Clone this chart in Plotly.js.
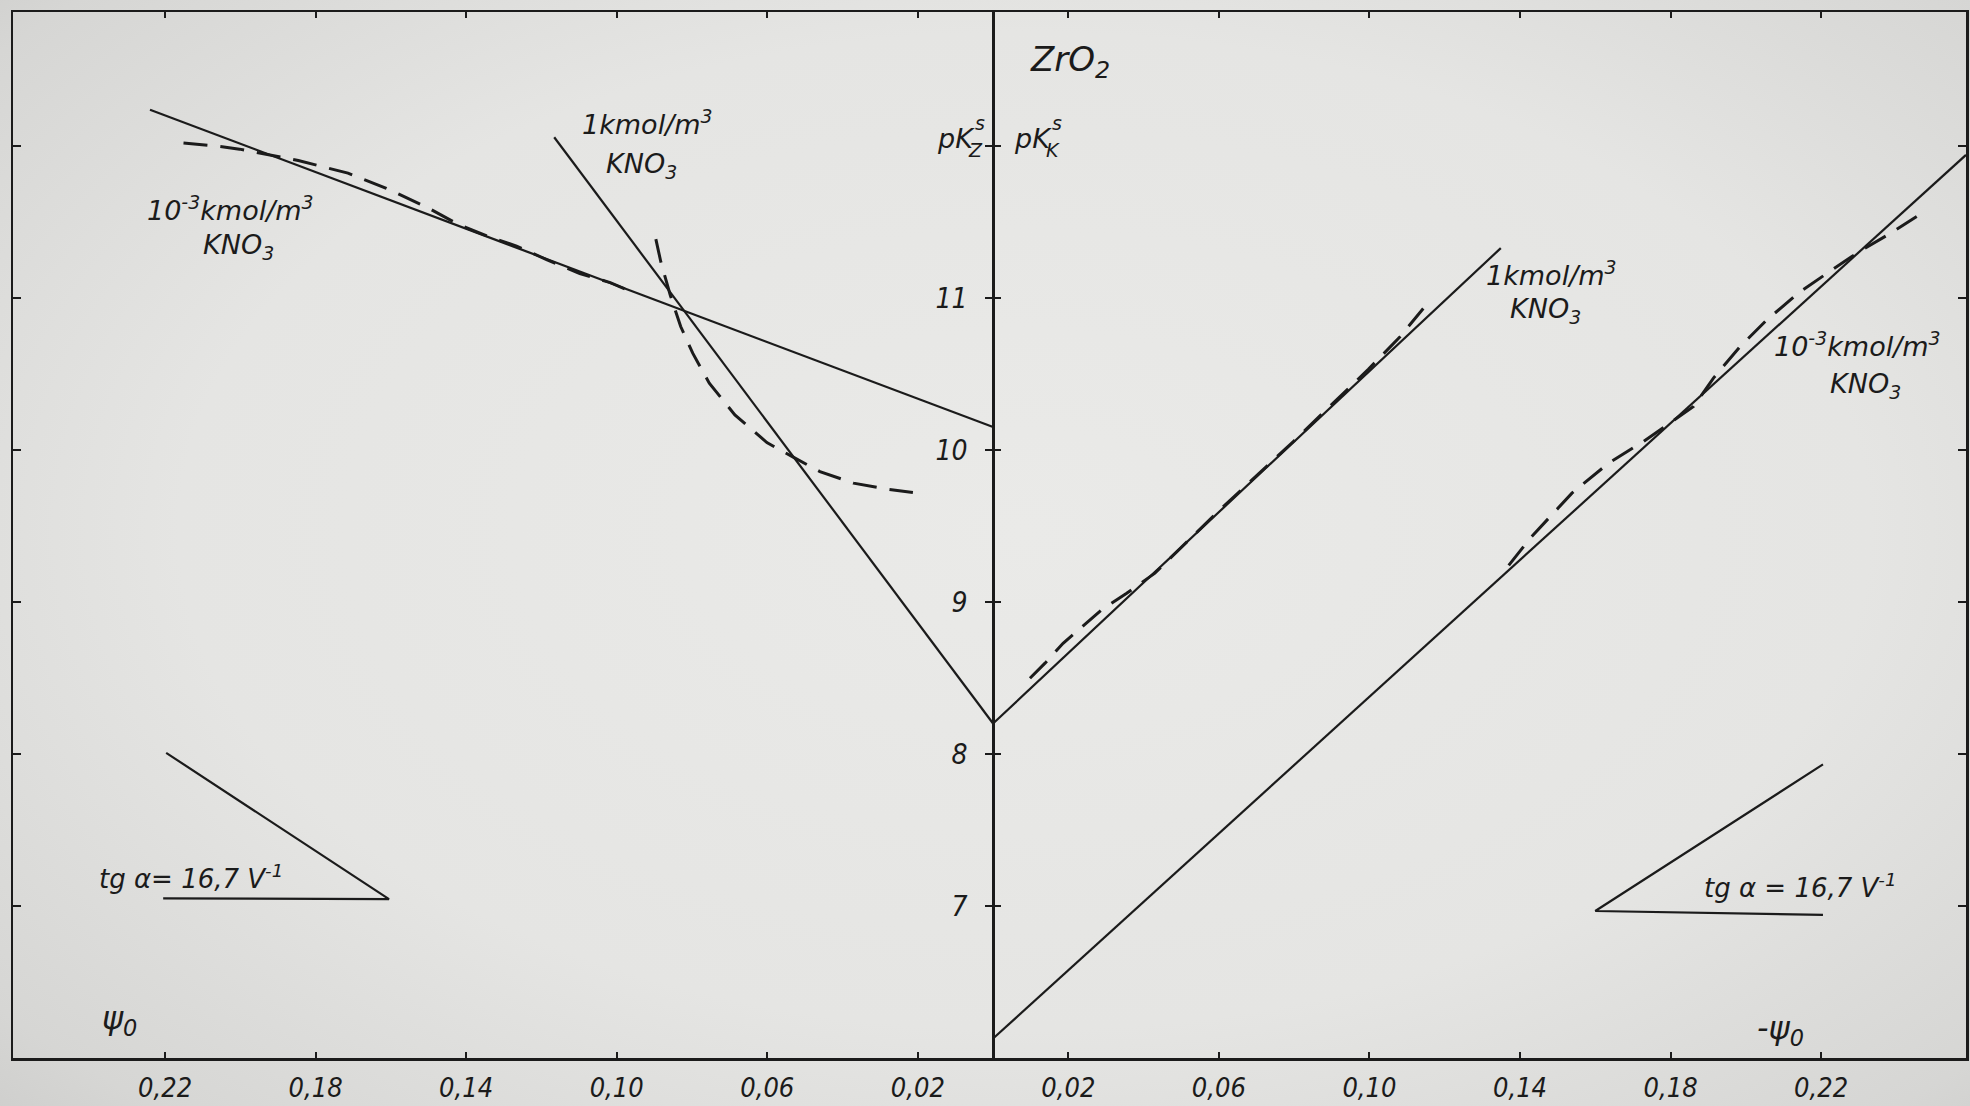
<!DOCTYPE html>
<html>
<head>
<meta charset="utf-8">
<script src="https://cdn.plot.ly/plotly-3.0.1.min.js"></script>
<style>
  html, body { margin: 0; padding: 0; }
  body {
    width: 1970px; height: 1106px; overflow: hidden;
    background: radial-gradient(ellipse 78% 82% at 52% 48%, #eaeae8 0%, #e5e5e3 55%, #d6d6d4 85%, #c8c8c6 100%);
  }
  #chart { width: 1970px; height: 1106px; }
</style>
</head>
<body>
<div id="chart"></div>
<script>
// ZrO2: pK_Z^s - pK_K^s against the surface potential psi0.
// psi0 > 0 is drawn on the left half, -psi0 on the right half.

// 1 kmol/m3 KNO3, psi0 > 0
const fitHighPosX = [0.1166, 0.0];
const fitHighPosY = [12.056, 8.20];
const expHighPosX = [0.0896, 0.0883, 0.0858, 0.0830, 0.0798, 0.0754, 0.0686, 0.0601, 0.0531, 0.0460, 0.0371, 0.0283, 0.0213];
const expHighPosY = [11.386, 11.239, 11.020, 10.811, 10.636, 10.439, 10.230, 10.048, 9.952, 9.857, 9.781, 9.742, 9.719];

// 1e-3 kmol/m3 KNO3, psi0 > 0
const fitLowPosX = [0.2240, 0.0];
const fitLowPosY = [12.237, 10.15];
const expLowPosX = [0.2151, 0.2069, 0.2002, 0.1958, 0.1846, 0.1714, 0.1612, 0.1500, 0.1419, 0.1337, 0.1266, 0.1185, 0.1098, 0.1017, 0.0971];
const expLowPosY = [12.018, 12.000, 11.978, 11.956, 11.903, 11.820, 11.720, 11.590, 11.480, 11.400, 11.340, 11.250, 11.160, 11.100, 11.050];

// 1 kmol/m3 KNO3, psi0 < 0
const fitHighNegX = [0.0, -0.1349];
const fitHighNegY = [8.20, 11.327];
const expHighNegX = [-0.0098, -0.0138, -0.0186, -0.0288, -0.0355, -0.0430, -0.0600, -0.0800, -0.0997, -0.1080, -0.1143];
const expHighNegY = [8.498, 8.597, 8.728, 8.947, 9.057, 9.189, 9.600, 10.060, 10.530, 10.740, 10.930];

// 1e-3 kmol/m3 KNO3, psi0 < 0
const fitLowNegX = [0.0, -0.2585];
const fitLowNegY = [6.128, 11.94];
const expLowNegX = [-0.1370, -0.1427, -0.1538, -0.1635, -0.1728, -0.1825, -0.1861, -0.1914, -0.1985, -0.2056, -0.2144, -0.2215, -0.2295, -0.2392, -0.2454];
const expLowNegY = [9.240, 9.419, 9.715, 9.912, 10.055, 10.219, 10.285, 10.472, 10.680, 10.855, 11.040, 11.160, 11.294, 11.436, 11.535];

// slope guides, tg alpha = 16.7 V^-1
const slopeLeftX = [0.2197, 0.1605, 0.2205];
const slopeLeftY = [8.007, 7.045, 7.050];
const slopeRightX = [-0.2205, -0.1600, -0.2205];
const slopeRightY = [7.931, 6.967, 6.941];

// axes
const psiRange = [0.2604, -0.2585];
const pkRange = [6.0, 12.88];
const psiTicks = [0.22, 0.18, 0.14, 0.10, 0.06, 0.02, -0.02, -0.06, -0.10, -0.14, -0.18, -0.22];
const psiTickText = ['0,22', '0,18', '0,14', '0,10', '0,06', '0,02', '0,02', '0,06', '0,10', '0,14', '0,18', '0,22'];
const pkTicks = [7, 8, 9, 10, 11, 12];
const pkTickText = ['7', '8', '9', '10', '11', ''];

const INK = '#1b1b1b';
const solid = { color: INK, width: 2.2 };
const dashed = { color: INK, width: 3, dash: '24px,13px' };

function line(x, y, style, yaxis) {
  return { x: x, y: y, type: 'scatter', mode: 'lines', line: style,
           hoverinfo: 'skip', showlegend: false, yaxis: yaxis || 'y' };
}

const traces = [
  line(fitLowPosX, fitLowPosY, solid),
  line(expLowPosX, expLowPosY, dashed),
  line(fitHighPosX, fitHighPosY, solid),
  line(expHighPosX, expHighPosY, dashed),
  line(fitHighNegX, fitHighNegY, solid, 'y2'),
  line(expHighNegX, expHighNegY, dashed, 'y2'),
  line(fitLowNegX, fitLowNegY, solid, 'y3'),
  line(expLowNegX, expLowNegY, dashed, 'y3'),
  line(slopeLeftX, slopeLeftY, solid),
  line(slopeRightX, slopeRightY, solid)
];

const centerPos = psiRange[0] / (psiRange[0] - psiRange[1]);

function font(size, family) {
  return { family: family || 'DejaVu Sans, sans-serif', size: size, color: INK, style: 'italic' };
}
const COND = 'DejaVu Sans Condensed, DejaVu Sans, sans-serif';
const TXT = font(27);
const SMALL = font(19);

function note(text, x, y, f, xanchor) {
  return { text: text, x: x, y: y, xref: 'x', yref: 'y', showarrow: false,
           font: f || TXT, xanchor: xanchor || 'center', yanchor: 'middle' };
}

const layout = {
  width: 1970, height: 1106,
  margin: { l: 13, r: 4, t: 12, b: 48 },
  paper_bgcolor: 'rgba(0,0,0,0)',
  plot_bgcolor: 'rgba(0,0,0,0)',
  showlegend: false,
  xaxis: {
    range: psiRange, tickmode: 'array', tickvals: psiTicks, ticktext: psiTickText,
    ticks: 'inside', ticklen: 6, tickwidth: 2, tickcolor: INK,
    showline: true, linecolor: INK, linewidth: 2.5, mirror: 'ticks',
    showgrid: false, zeroline: false, tickfont: font(27, COND), ticklabelstandoff: 4
  },
  yaxis: {
    range: pkRange, tickmode: 'array', tickvals: pkTicks,
    ticks: 'inside', ticklen: 8, tickwidth: 2, tickcolor: INK,
    showline: true, linecolor: INK, linewidth: 2.5, mirror: 'ticks',
    showticklabels: false, showgrid: false, zeroline: false
  },
  yaxis2: {
    range: pkRange, overlaying: 'y', anchor: 'free', position: centerPos, side: 'left',
    tickmode: 'array', tickvals: pkTicks, ticktext: pkTickText,
    ticks: 'outside', ticklen: 7, tickwidth: 2, tickcolor: INK,
    showline: true, linecolor: INK, linewidth: 2.5,
    showgrid: false, zeroline: false,
    tickfont: font(28, COND),
    ticklabelstandoff: 12
  },
  yaxis3: {
    range: pkRange, overlaying: 'y', anchor: 'free', position: centerPos, side: 'right',
    tickmode: 'array', tickvals: pkTicks,
    ticks: 'outside', ticklen: 7, tickwidth: 2, tickcolor: INK,
    showline: false, showticklabels: false, showgrid: false, zeroline: false
  },
  annotations: [
    note('ZrO<sub>2</sub>', -0.0205, 12.555, font(34)),
    note('pK', 0.0042, 12.046, TXT, 'right'),
    note('s', 0.0036, 12.150, SMALL),
    note('Z', 0.0048, 11.975, SMALL),
    note('pK', -0.0050, 12.046, TXT, 'left'),
    note('s', -0.0170, 12.151, SMALL),
    note('K', -0.0158, 11.974, SMALL),
    note('1kmol/m<sup>3</sup>', 0.0919, 12.150),
    note('KNO<sub>3</sub>', 0.0935, 11.870),
    note('10<sup>-3</sup>kmol/m<sup>3</sup>', 0.2027, 11.585),
    note('KNO<sub>3</sub>', 0.2006, 11.335),
    note('1kmol/m<sup>3</sup>', -0.1485, 11.160),
    note('KNO<sub>3</sub>', -0.1469, 10.915),
    note('10<sup>-3</sup>kmol/m<sup>3</sup>', -0.2298, 10.690),
    note('KNO<sub>3</sub>', -0.2317, 10.425),
    note('tg α= 16,7 V<sup>-1</sup>', 0.2131, 7.191, font(26)),
    note('tg α = 16,7 V<sup>-1</sup>', -0.2144, 7.132, font(26)),
    note('ψ<sub>0</sub>', 0.232, 6.25, font(32)),
    note('-ψ<sub>0</sub>', -0.2091, 6.184, font(32))
  ]
};

Plotly.newPlot('chart', traces, layout, { staticPlot: true, displayModeBar: false });
</script>
</body>
</html>
